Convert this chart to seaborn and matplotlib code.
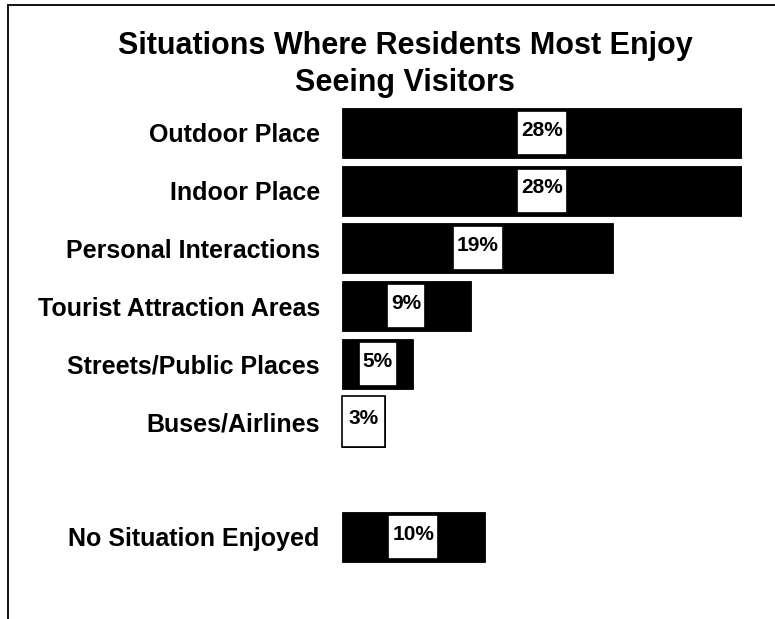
import matplotlib
matplotlib.use("Agg")
import matplotlib.pyplot as plt
import seaborn as sns
import pandas as pd
from matplotlib.patches import Rectangle
from matplotlib.lines import Line2D

# Survey results: share of residents per situation
categories = [
    "Outdoor Place",
    "Indoor Place",
    "Personal Interactions",
    "Tourist Attraction Areas",
    "Streets/Public Places",
    "Buses/Airlines",
    "No Situation Enjoyed",
]
shares = [28, 28, 19, 9, 5, 3, 10]
value_labels = ["28%", "28%", "19%", "9%", "5%", "3%", "10%"]
title_lines = ["Situations Where Residents Most Enjoy", "Seeing Visitors"]

# a blank row separates the "none" answer from the others
order = categories[:6] + [" "] + categories[6:]

sns.set_theme(style="white")
plt.rcParams["font.family"] = ["Liberation Sans", "DejaVu Sans"]
plt.rcParams["font.weight"] = "bold"

W, H = 775, 619
fig = plt.figure(figsize=(W / 100, H / 100), dpi=100)
fig.patch.set_facecolor("white")

slot = 57.7
top_px = 133 - slot / 2
bot_px = 133 + 7.5 * slot
ax = fig.add_axes([342 / W, 1 - bot_px / H, 400 / W, (bot_px - top_px) / H])

df = pd.DataFrame({"situation": categories, "share": shares})
sns.barplot(
    data=df, x="share", y="situation", order=order, orient="h",
    color="black", saturation=1, width=0.867, errorbar=None,
    edgecolor="black", linewidth=0.6, ax=ax,
)
ax.set_xlim(0, 28)
ax.set_ylim(7.5, -0.5)
ax.set_xlabel("")
ax.set_ylabel("")
ax.set_xticks([])
for s in ax.spines.values():
    s.set_visible(False)
ax.tick_params(axis="y", length=0, pad=16)
for lab in ax.get_yticklabels():
    lab.set_fontsize(18)
    lab.set_fontweight("bold")
    lab.set_color("black")

# value labels, each inside a white box
texts = []
for cat, val, lab in zip(categories, shares, value_labels):
    pos = order.index(cat)
    t = ax.annotate(lab, xy=(val / 2, pos), xytext=(0, 2), textcoords="offset points",
                    ha="center", va="center", fontsize=15, fontweight="bold",
                    color="black", zorder=5)
    texts.append((t, val, pos))

fig.canvas.draw()
renderer = fig.canvas.get_renderer()
inv = ax.transData.inverted()
half = 0.867 / 2
for t, val, pos in texts:
    bb = t.get_window_extent(renderer)
    (bx0, by_top), = ax.transData.transform([(0, pos - half)])
    (bx1, by_bot), = ax.transData.transform([(val, pos + half)])
    x0, x1 = bb.x0 - 4, bb.x1 + 4
    y0, y1 = by_bot + 3, by_top - 3
    if x1 - x0 > (bx1 - bx0) - 14:
        x0, x1, y0, y1 = bx0, bx1, by_bot, by_top
    (dx0, dy0), (dx1, dy1) = inv.transform([(x0, y0), (x1, y1)])
    ax.add_patch(Rectangle((dx0, dy0), dx1 - dx0, dy1 - dy0, facecolor="white",
                           edgecolor="black", linewidth=1.2, zorder=4, clip_on=False))

fig.text(405 / W, 1 - 31 / H, "\n".join(title_lines), ha="center", va="top",
         fontsize=22, fontweight="bold", linespacing=1.32, color="black")

# outer frame (left and top edges)
fig.add_artist(Line2D([8 / W, 8 / W], [0, 1 - 5 / H], color="black", lw=1.3,
                      transform=fig.transFigure))
fig.add_artist(Line2D([8 / W, 1], [1 - 5 / H, 1 - 5 / H], color="black", lw=1.3,
                      transform=fig.transFigure))

fig.savefig("out.png", dpi=100)
